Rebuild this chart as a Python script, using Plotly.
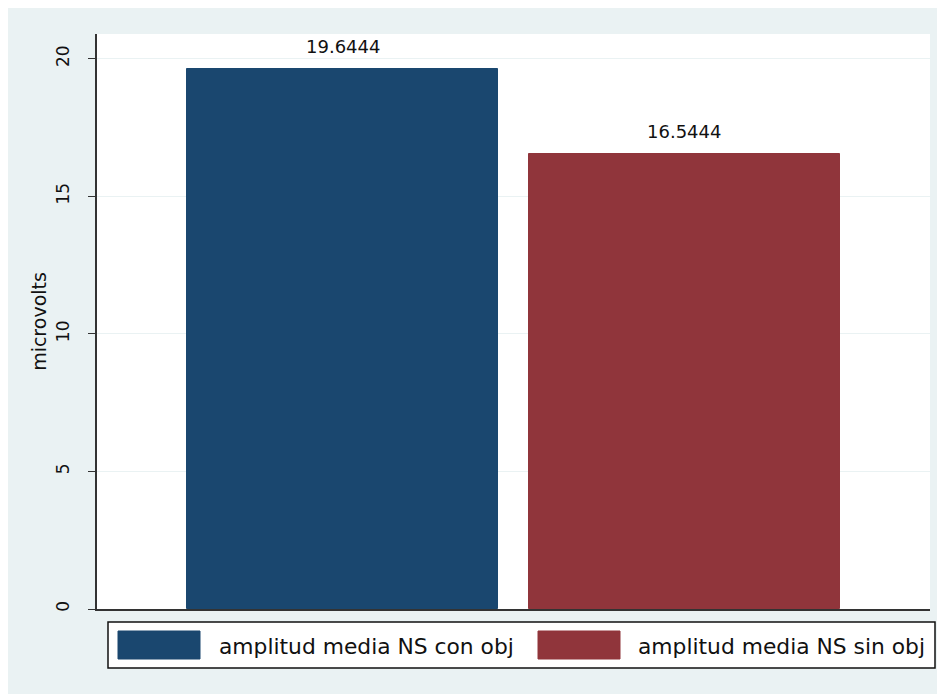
import plotly.graph_objects as go

categories = ["amplitud media NS con obj", "amplitud media NS sin obj"]
values = [19.6444, 16.5444]
value_labels = ["19.6444", "16.5444"]
colors = ["#1A476F", "#90353B"]
y_ticks = [0, 5, 10, 15, 20]
y_title = "microvolts"

FONT = "DejaVu Sans, Liberation Sans, Arial, sans-serif"
BG = "#EAF2F3"
TXT = "#111111"

fig = go.Figure()
for cat, val, col in zip(categories, values, colors):
    fig.add_trace(go.Bar(
        x=[cat], y=[val], name=cat, width=0.909,
        marker=dict(color=col, line=dict(color=col, width=1)),
        showlegend=False,
    ))

# value labels above the bars
for cat, val, lab in zip(categories, values, value_labels):
    fig.add_annotation(x=cat, y=val, text=lab, showarrow=False,
                       xanchor="center", yanchor="middle", yshift=22,
                       font=dict(family=FONT, size=18, color=TXT))

fig.update_layout(
    width=937, height=686,
    margin=dict(l=89, r=15, t=26, b=85),
    paper_bgcolor=BG, plot_bgcolor="white",
    barmode="overlay", bargap=0,
    font=dict(family=FONT, color=TXT),
    xaxis=dict(range=[-0.718, 1.718], showticklabels=False, ticks="",
               showgrid=False, zeroline=False, showline=True,
               linecolor="#333333", linewidth=2),
    yaxis=dict(range=[0, 20.9], tickvals=y_ticks, tickangle=-90,
               ticks="outside", ticklen=7, tickcolor="#333333", tickwidth=1,
               ticklabelstandoff=12,
               tickfont=dict(family=FONT, size=17, color=TXT),
               showgrid=True, gridcolor=BG, gridwidth=1, zeroline=False,
               showline=True, linecolor="#333333", linewidth=2,
               title=dict(text=y_title, standoff=2,
                          font=dict(family=FONT, size=19, color=TXT))),
)

# manual legend (positions given in page pixels, converted to paper coords)
def px_x(p):
    return (p - 97) / 833

def px_y(p):
    return (609 - p) / 575

fig.add_shape(type="rect", xref="paper", yref="paper",
              x0=px_x(108), x1=px_x(935), y0=px_y(622), y1=px_y(668),
              fillcolor="white", line=dict(color=TXT, width=1.5))
sw_x = [118, 538]
tx_x = [217, 636]
for cat, col, sx, tx in zip(categories, colors, sw_x, tx_x):
    fig.add_shape(type="rect", xref="paper", yref="paper",
                  x0=px_x(sx), x1=px_x(sx + 82), y0=px_y(631), y1=px_y(659),
                  fillcolor=col, line=dict(color=col, width=1))
    fig.add_annotation(xref="paper", yref="paper", x=px_x(tx), y=px_y(646),
                       text=cat, showarrow=False, xanchor="left", yanchor="middle",
                       font=dict(family=FONT, size=21.8, color=TXT))

fig.write_html("out.html")
